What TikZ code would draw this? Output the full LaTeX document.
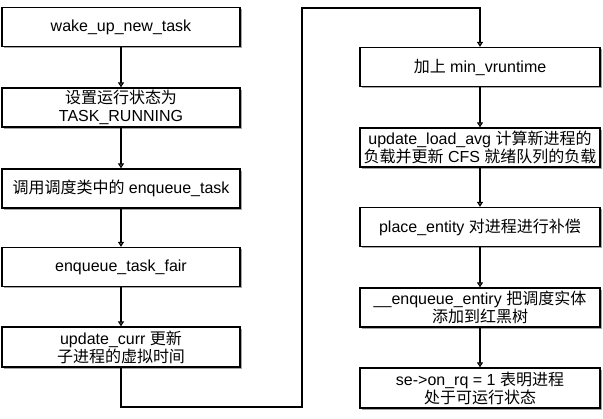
\documentclass[tikz,border=0pt]{standalone}
\usepackage{fontspec}
\setmainfont{Liberation Sans}
\newfontfamily\cjk{Noto Sans CJK SC}
\usetikzlibrary{arrows.meta,shadows}
\tikzset{
  box/.style={draw, line width=1.3pt, fill=white, minimum width=238pt, minimum height=39pt,
    align=center, inner sep=1pt, font=\fontsize{16}{18}\selectfont,
    drop shadow={shadow xshift=2pt, shadow yshift=-2pt, fill=black!35, opacity=1}},
  flow/.style={line width=1.3pt, -{Triangle[open, length=5pt, width=6pt]}}
}
\begin{document}
\begin{tikzpicture}[x=1pt,y=-1pt]
\useasboundingbox (0,0) rectangle (603,419);
\node[box] (l1) at (121,27) {wake\_up\_new\_task};
\node[box] (l2) at (121,107.5) {{\cjk 设置运行状态为}\\TASK\_RUNNING};
\node[box] (l3) at (121,188.5) {{\cjk 调用调度类中的} enqueue\_task};
\node[box] (l4) at (121,267) {enqueue\_task\_fair};
\node[box, minimum height=40pt] (l5) at (121,347) {update\_curr {\cjk 更新}\\{\cjk 子进程的虚拟时间}};
\node[box, minimum width=240pt] (r1) at (480,67) {{\cjk 加上} min\_vruntime};
\node[box, minimum width=240pt] (r2) at (480,147.5) {update\_load\_avg {\cjk 计算新进程的}\\{\cjk 负载并更新} CFS {\cjk 就绪队列的负载}};
\node[box, minimum width=240pt] (r3) at (480,227) {place\_entity {\cjk 对进程进行补偿}};
\node[box, minimum width=240pt] (r4) at (480,307.5) {\_\_enqueue\_entiry {\cjk 把调度实体}\\{\cjk 添加到红黑树}};
\node[box, minimum width=240pt, minimum height=40pt] (r5) at (480,388) {se->on\_rq = 1 {\cjk 表明进程}\\{\cjk 处于可运行状态}};
\coordinate (c1) at (121,407);
\coordinate (c2) at (302,407);
\coordinate (c3) at (302,8);
\coordinate (c4) at (480,8);
\draw[flow] (l1) -- (l2);
\draw[flow] (l2) -- (l3);
\draw[flow] (l3) -- (l4);
\draw[flow] (l4) -- (l5);
\draw[flow] (l5.south) -- (c1) -- (c2) -- (c3) -- (c4) -- (r1.north);
\draw[flow] (r1) -- (r2);
\draw[flow] (r2) -- (r3);
\draw[flow] (r3) -- (r4);
\draw[flow] (r4) -- (r5);
\end{tikzpicture}
\end{document}
